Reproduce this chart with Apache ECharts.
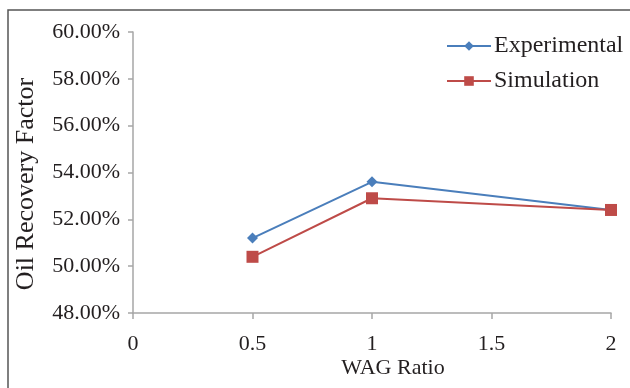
<!DOCTYPE html>
<html>
<head>
<meta charset="utf-8">
<script src="https://cdn.jsdelivr.net/npm/echarts@6/dist/echarts.min.js"></script>
<style>
html,body{margin:0;padding:0;background:#fff;}
#chart{width:630px;height:388px;}
</style>
</head>
<body>
<div id="chart"></div>
<script>
const wagRatio = [0.5, 1, 2];
const experimental = [51.2, 53.6, 52.4];
const simulation = [50.4, 52.9, 52.4];
const xTicks = [0, 0.5, 1, 1.5, 2];
const yTicks = [48, 50, 52, 54, 56, 58, 60];
const seriesNames = ['Experimental', 'Simulation'];
const xTitle = 'WAG Ratio';
const yTitle = 'Oil Recovery Factor';

const FONT = '"Liberation Serif", "DejaVu Serif", serif';
const chart = echarts.init(document.getElementById('chart'));
chart.setOption({
  animation: false,
  backgroundColor: '#fff',
  grid: {left: 133, right: 19, top: 32, bottom: 75},
  xAxis: {
    type: 'value', min: xTicks[0], max: xTicks[xTicks.length - 1], interval: 0.5,
    splitLine: {show: false},
    axisLine: {lineStyle: {color: '#a6a6a6', width: 1.5}},
    axisTick: {show: true, length: 6, lineStyle: {color: '#a6a6a6', width: 1.5}},
    axisLabel: {fontFamily: FONT, fontSize: 22, color: '#231f20', margin: 20,
      formatter: v => String(v)}
  },
  yAxis: {
    type: 'value', min: yTicks[0], max: yTicks[yTicks.length - 1], interval: 2,
    splitLine: {show: false},
    axisLine: {show: true, lineStyle: {color: '#a6a6a6', width: 1.5}},
    axisTick: {show: true, length: 5, lineStyle: {color: '#a6a6a6', width: 1.5}},
    axisLabel: {fontFamily: FONT, fontSize: 22, color: '#231f20', margin: 13,
      formatter: v => v.toFixed(2) + '%'}
  },
  legend: {
    orient: 'vertical', left: 441, top: 29, itemWidth: 44, itemHeight: 12, itemGap: 11,
    textStyle: {fontFamily: FONT, fontSize: 24, color: '#231f20', lineHeight: 24, padding: [0,0,0,-2]},
    data: seriesNames
  },
  series: [
    {name: seriesNames[0], type: 'line', data: wagRatio.map((x, i) => [x, experimental[i]]),
      symbol: 'diamond', symbolSize: 11,
      lineStyle: {color: '#4a7ebb', width: 2}, itemStyle: {color: '#4a7ebb'}},
    {name: seriesNames[1], type: 'line', data: wagRatio.map((x, i) => [x, simulation[i]]),
      symbol: 'rect', symbolSize: 12,
      lineStyle: {color: '#be4b48', width: 2}, itemStyle: {color: '#be4b48'}}
  ],
  graphic: [
    {type: 'rect', shape: {x: 8, y: 10, width: 640, height: 400}, silent: true, z: -1,
      style: {fill: 'none', stroke: '#555', lineWidth: 1.5}},
    {type: 'text', x: 393, y: 368, style: {text: xTitle, fontFamily: FONT, fontSize: 22,
      fill: '#231f20', textAlign: 'center', textVerticalAlign: 'middle'}},
    {type: 'text', x: 26, y: 184, rotation: Math.PI / 2, style: {text: yTitle, fontFamily: FONT,
      fontSize: 26, fill: '#231f20', textAlign: 'center', textVerticalAlign: 'middle'}}
  ]
});
</script>
</body>
</html>
